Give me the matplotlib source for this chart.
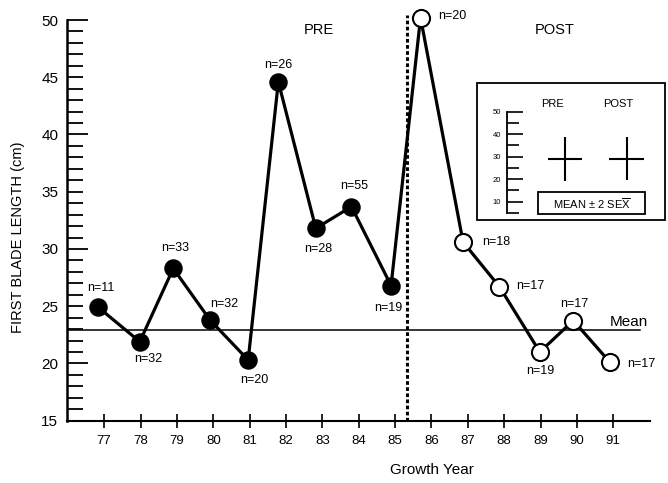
import matplotlib
matplotlib.use('Agg')
import matplotlib.pyplot as plt
from matplotlib.patches import Rectangle
from matplotlib.ticker import FixedLocator, FuncFormatter

plt.rcParams['font.family'] = ['Liberation Sans', 'DejaVu Sans']
plt.rcParams['mathtext.fontset'] = 'custom'
plt.rcParams['mathtext.rm'] = 'Liberation Sans'
plt.rcParams['mathtext.it'] = 'Liberation Sans:italic'
plt.rcParams['mathtext.bf'] = 'Liberation Sans:bold'

# ---------------- data ----------------
years = [77, 78, 79, 80, 81, 82, 83, 84, 85, 86, 87, 88, 89, 90, 91]
# plotted x position of each point (points sit slightly off the tick marks)
x_pos = [76.84, 77.98, 78.90, 79.91, 80.96, 81.79, 82.82, 83.80, 84.89,
         85.70, 86.87, 87.87, 88.98, 89.90, 90.91]
lengths = [24.9, 21.9, 28.3, 23.8, 20.3, 44.6, 31.8, 33.7, 26.8,
           50.2, 30.6, 26.7, 21.0, 23.75, 20.1]
n_values = [11, 32, 33, 32, 20, 26, 28, 55, 19, 20, 18, 17, 19, 17, 17]
period = ['PRE'] * 9 + ['POST'] * 6
mean_length = 22.9
break_year = 85.34

inset_groups = ['PRE', 'POST']
inset_means = [29.0, 29.2]
inset_2se = [9.7, 9.6]

# label offsets in pixels (dx, dy) for n= annotations
label_offsets = [(3, 19), (8, -17), (2, 20), (14, 16), (6, -20), (0, 17),
                 (2, -21), (3, 21), (-3, -22), (32, 2), (33, 0), (31, 1),
                 (0, -19), (1, 17), (31, -2)]

# ---------------- figure ----------------
W, H = 668, 483
fig = plt.figure(figsize=(W / 100, H / 100), dpi=100)


def fx(px):
    return px / W


def fy(py):
    return 1 - py / H


ax = fig.add_axes([fx(66.7), fy(420.7), (650 - 66.7) / W, (420.7 - 20) / H])
ax.set_xlim(75.97, 92.01)
ax.set_ylim(15, 50)

for s in ['top', 'right']:
    ax.spines[s].set_visible(False)
ax.spines['left'].set_linewidth(1.8)
ax.spines['bottom'].set_linewidth(1.5)

# x ticks
ax.set_xticks(years)
ax.set_xticklabels([str(y) for y in years])
ax.tick_params(axis='x', direction='inout', length=10, width=1.2,
               labelsize=9.5, pad=5.5)

# y ticks: long at tens, short elsewhere
ax.yaxis.set_major_locator(FixedLocator([20, 30, 40, 50]))
ax.yaxis.set_minor_locator(FixedLocator([v for v in range(15, 50) if v % 10 != 0]))
ax.yaxis.set_minor_formatter(FuncFormatter(lambda v, p: f"{int(round(v))}" if int(round(v)) % 5 == 0 else ""))
ax.tick_params(axis='y', which='major', direction='in', length=15, width=1.3,
               labelsize=11, pad=6)
ax.tick_params(axis='y', which='minor', direction='in', length=11.5, width=1.3,
               labelsize=11, pad=6)

# mean line
ax.axhline(mean_length, xmin=0, xmax=(640 - 66.7) / (650 - 66.7),
           color='black', lw=1.1, zorder=2)

# break line
ax.plot([break_year, break_year], [15, 50.45], color='black', lw=2.2,
        ls=(0, (1.2, 0.8)), clip_on=False, zorder=2)

# main series
ax.plot(x_pos, lengths, color='black', lw=2.3, zorder=3, clip_on=False)
pre_x = [x for x, p in zip(x_pos, period) if p == 'PRE']
pre_y = [y for y, p in zip(lengths, period) if p == 'PRE']
post_x = [x for x, p in zip(x_pos, period) if p == 'POST']
post_y = [y for y, p in zip(lengths, period) if p == 'POST']
ax.plot(pre_x, pre_y, ls='none', marker='o', ms=12.3, mfc='black',
        mec='black', zorder=4, clip_on=False)
ax.plot(post_x, post_y, ls='none', marker='o', ms=12.3, mfc='white',
        mec='black', mew=1.5, zorder=4, clip_on=False)

for x, y, n, (dx, dy) in zip(x_pos, lengths, n_values, label_offsets):
    ax.annotate(f"n={n}", (x, y), xytext=(dx, dy), textcoords='offset pixels',
                ha='center', va='center', fontsize=9, annotation_clip=False)

# axis titles and texts
fig.text(fx(18), fy(237), 'FIRST BLADE LENGTH (cm)', rotation=90,
         ha='center', va='center', fontsize=10.5)
fig.text(fx(432), fy(470), 'Growth Year', ha='center', va='center',
         fontsize=11)
fig.text(fx(319), fy(30), 'PRE', ha='center', va='center', fontsize=10.5)
fig.text(fx(555), fy(30), 'POST', ha='center', va='center', fontsize=10.5)
fig.text(fx(629), fy(322), 'Mean', ha='center', va='center', fontsize=11)

# ---------------- inset legend ----------------
fig.patches.append(Rectangle((fx(476.7), fy(220)), (665 - 476.7) / W,
                             (220 - 83.3) / H, transform=fig.transFigure,
                             fill=False, lw=1.3, ec='black', zorder=5))

ax2 = fig.add_axes([fx(506.7), fy(213), (650 - 506.7) / W, (213 - 111.7) / H])
ax2.patch.set_visible(False)
ax2.set_ylim(5, 50)
ax2.set_xlim(0.055, 2.378)
for s in ['top', 'right', 'bottom']:
    ax2.spines[s].set_visible(False)
ax2.spines['left'].set_linewidth(1.3)
ax2.set_xticks([])
ax2.yaxis.set_major_locator(FixedLocator([10, 20, 30, 40, 50]))
ax2.yaxis.set_minor_locator(FixedLocator([5, 15, 25, 35, 45]))
ax2.tick_params(axis='y', which='major', direction='in', length=11.5,
                width=1.2, labelsize=5.5, pad=4)
ax2.tick_params(axis='y', which='minor', direction='in', length=8.5,
                width=1.2)
ax2.errorbar([1, 2], inset_means, xerr=0.28, yerr=inset_2se, fmt='none',
             ecolor='black', elinewidth=1.5, capsize=0)

fig.text(fx(552.5), fy(104), inset_groups[0], ha='center', va='center',
         fontsize=8)
fig.text(fx(618), fy(104), inset_groups[1], ha='center', va='center',
         fontsize=8)

fig.patches.append(Rectangle((fx(538), fy(214)), (645 - 538) / W,
                             (214 - 191.7) / H, transform=fig.transFigure,
                             fill=False, lw=1.3, ec='black', zorder=5))
fig.text(fx(591.5), fy(203.5), r'MEAN $\pm$ 2 SE$\overline{\mathrm{X}}$',
         ha='center', va='center', fontsize=8)

fig.savefig('out.png', dpi=100)
